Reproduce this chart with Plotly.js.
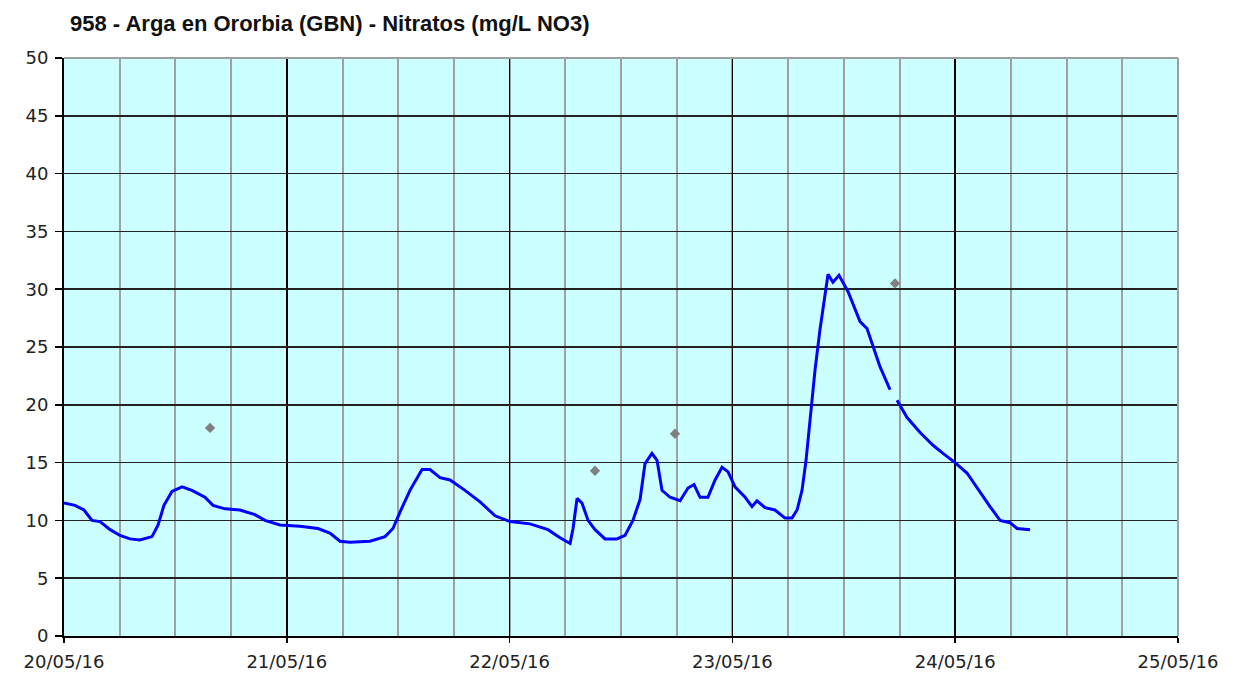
<!DOCTYPE html>
<html>
<head>
<meta charset="utf-8">
<script src="https://cdn.plot.ly/plotly-3.0.1.min.js"></script>
<style>html,body{margin:0;padding:0;background:#fff;}#chart{width:1251px;height:677px;}</style>
</head>
<body>
<div id="chart"></div>
<script>
// Continuous nitrate sensor series (time, mg/L NO3); null marks the data gap
const sensorTimes = [
 "2016-05-20 00:00","2016-05-20 01:11","2016-05-20 02:09","2016-05-20 03:01","2016-05-20 03:53",
 "2016-05-20 04:58","2016-05-20 06:02","2016-05-20 07:07","2016-05-20 08:11","2016-05-20 09:29",
 "2016-05-20 10:08","2016-05-20 10:46","2016-05-20 11:38","2016-05-20 12:43","2016-05-20 13:47",
 "2016-05-20 15:11","2016-05-20 16:03","2016-05-20 17:21","2016-05-20 18:57","2016-05-20 20:34",
 "2016-05-20 21:39","2016-05-20 23:16","2016-05-21 01:25","2016-05-21 03:22","2016-05-21 04:39",
 "2016-05-21 05:44","2016-05-21 06:48","2016-05-21 08:58","2016-05-21 10:35","2016-05-21 11:26",
 "2016-05-21 12:11","2016-05-21 13:16","2016-05-21 14:34","2016-05-21 15:26","2016-05-21 16:30",
 "2016-05-21 17:35","2016-05-21 19:12","2016-05-21 20:49","2016-05-21 22:26","2016-05-22 00:03",
 "2016-05-22 02:12","2016-05-22 04:08","2016-05-22 05:26","2016-05-22 06:31","2016-05-22 06:50",
 "2016-05-22 07:16","2016-05-22 07:48","2016-05-22 08:27","2016-05-22 09:12","2016-05-22 10:17",
 "2016-05-22 11:34","2016-05-22 12:26","2016-05-22 13:17","2016-05-22 14:03","2016-05-22 14:35",
 "2016-05-22 15:20","2016-05-22 15:53","2016-05-22 16:25","2016-05-22 17:17","2016-05-22 18:22",
 "2016-05-22 19:13","2016-05-22 19:52","2016-05-22 20:31","2016-05-22 21:22","2016-05-22 22:08",
 "2016-05-22 22:53","2016-05-22 23:32","2016-05-23 00:17","2016-05-23 01:22","2016-05-23 02:07",
 "2016-05-23 02:39","2016-05-23 03:31","2016-05-23 04:35","2016-05-23 05:40","2016-05-23 06:25",
 "2016-05-23 06:58","2016-05-23 07:30","2016-05-23 07:56","2016-05-23 08:22","2016-05-23 08:54",
 "2016-05-23 09:26","2016-05-23 10:05","2016-05-23 10:18","2016-05-23 10:50","2016-05-23 11:29",
 "2016-05-23 12:27","2016-05-23 13:45","2016-05-23 14:30","2016-05-23 15:09","2016-05-23 15:54",
 "2016-05-23 16:59","2016-05-23 17:18","2016-05-23 17:44","2016-05-23 18:49","2016-05-23 20:13",
 "2016-05-23 21:37","2016-05-23 22:41","2016-05-23 23:59","2016-05-24 01:16","2016-05-24 02:40",
 "2016-05-24 03:45","2016-05-24 04:50","2016-05-24 05:54","2016-05-24 06:40","2016-05-24 07:50",
 "2016-05-24 08:04"
];
const sensorValues = [
 11.5,11.3,10.9,10.0,9.9,
 9.2,8.7,8.4,8.3,8.6,
 9.6,11.3,12.5,12.9,12.6,
 12.0,11.3,11.0,10.9,10.5,
 10.0,9.6,9.5,9.3,8.9,
 8.2,8.1,8.2,8.6,9.3,
 10.7,12.6,14.4,14.4,13.7,
 13.5,12.6,11.6,10.4,9.9,
 9.7,9.2,8.5,8.0,9.3,
 11.9,11.5,10.0,9.2,8.4,
 8.4,8.7,10.0,11.8,14.9,
 15.8,15.2,12.6,12.0,11.7,
 12.8,13.1,12.0,12.0,13.5,
 14.6,14.2,12.9,12.0,11.2,
 11.7,11.1,10.9,10.2,10.2,
 10.9,12.6,15.2,18.7,23.0,
 26.5,29.9,31.3,30.6,31.2,
 29.8,27.2,26.6,25.0,23.3,
 21.3,null,20.4,18.9,17.6,
 16.5,15.8,15.0,14.1,12.4,
 11.2,10.0,9.8,9.3,9.2,
 9.2
];
// Laboratory samples
const labTimes = ["2016-05-20 15:44","2016-05-22 09:12","2016-05-22 17:49","2016-05-23 17:31"];
const labValues = [18.0,14.3,17.5,30.5];
// Axis ticks
const xTickVals = ["2016-05-20","2016-05-21","2016-05-22","2016-05-23","2016-05-24","2016-05-25"];
const xTickText = ["20/05/16","21/05/16","22/05/16","23/05/16","24/05/16","25/05/16"];
const yTickVals = [0,5,10,15,20,25,30,35,40,45,50];

const traces = [
 {x: sensorTimes, y: sensorValues, type:'scatter', mode:'lines',
  line:{color:'#0000FF', width:3, shape:'linear'}, connectgaps:false, showlegend:false, hoverinfo:'x+y'},
 {x: labTimes, y: labValues, type:'scatter', mode:'markers',
  marker:{symbol:'diamond', size:8, color:'#808080'}, showlegend:false}
];

const layout = {
 width:1251, height:677,
 margin:{l:64, r:73, t:58, b:41},
 paper_bgcolor:'#ffffff', plot_bgcolor:'#CCFFFF',
 font:{family:'DejaVu Sans, Verdana, sans-serif', size:16, color:'#222'},
 title:{text:'<b>958 - Arga en Ororbia (GBN) - Nitratos (mg/L NO3)</b>',
   font:{family:'Liberation Sans, Arial, sans-serif', size:22, color:'#111'},
   xref:'container', yref:'container', x:70/1251, xanchor:'left', y:1-23/677, yanchor:'middle'},
 xaxis:{type:'date', range:['2016-05-20','2016-05-25'],
   tickvals:xTickVals, ticktext:xTickText, ticks:'outside', ticklen:5, tickwidth:1.5, tickcolor:'#000',
   ticklabelstandoff:3,
   showgrid:true, gridcolor:'#000', gridwidth:1.5,
   minor:{dtick:6*3600*1000, tick0:'2016-05-20', showgrid:true, gridcolor:'#A0A0A0', gridwidth:2, ticks:''},
   showline:true, linecolor:'#000', linewidth:2, zeroline:false,
   tickfont:{size:18, color:'#222'}, fixedrange:true},
 yaxis:{range:[0,50], tickvals:yTickVals, ticks:'outside', ticklen:7, tickwidth:1.5, tickcolor:'#000',
   ticklabelstandoff:3,
   showgrid:true, gridcolor:'#222', gridwidth:1.5,
   showline:true, linecolor:'#000', linewidth:2, zeroline:false,
   tickfont:{size:18, color:'#222'}, fixedrange:true},
 shapes:[
  {type:'line', xref:'paper', yref:'paper', x0:0, x1:1, y0:1, y1:1, line:{color:'#A0A0A0', width:2}, layer:'above'},
  {type:'line', xref:'paper', yref:'paper', x0:1, x1:1, y0:0, y1:1, line:{color:'#A0A0A0', width:2}, layer:'above'}
 ],
 showlegend:false
};

Plotly.newPlot('chart', traces, layout, {displayModeBar:false, staticPlot:true});
</script>
</body>
</html>
